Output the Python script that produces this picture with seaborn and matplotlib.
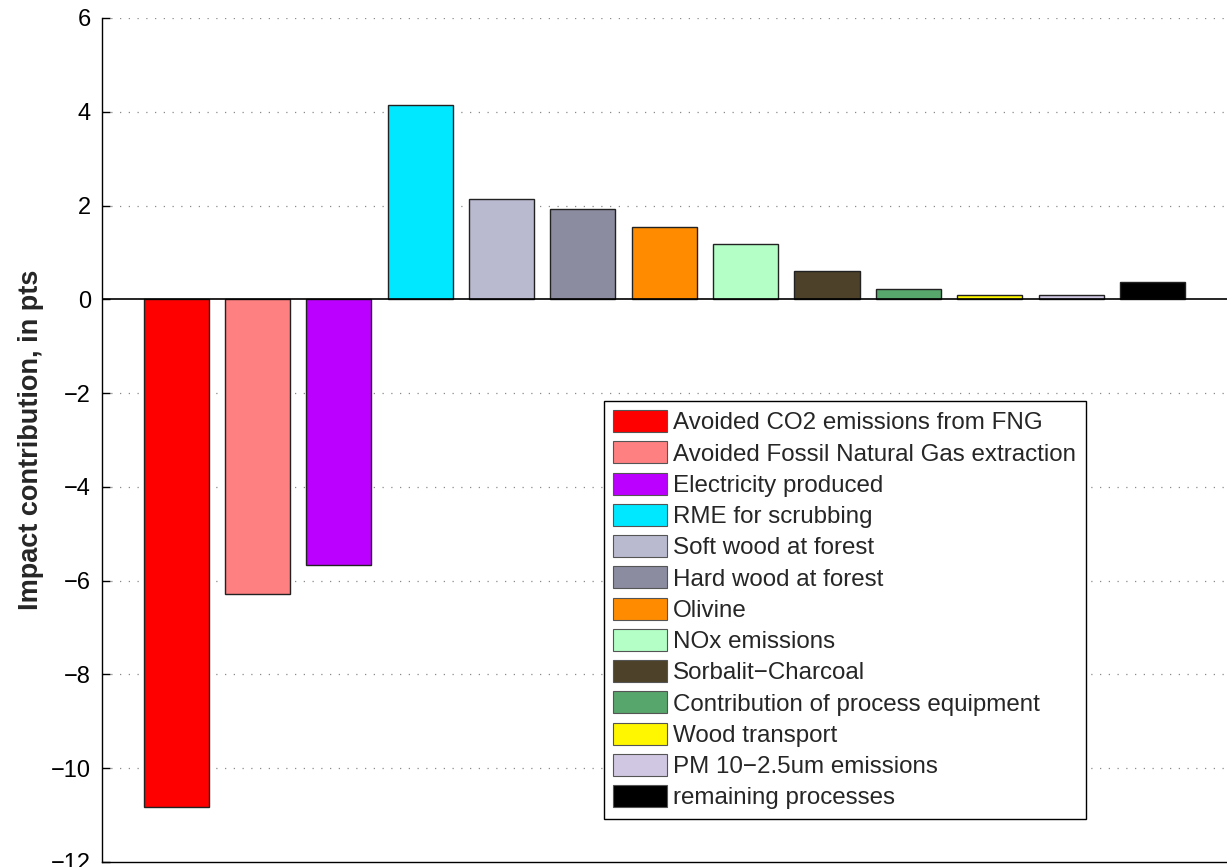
import matplotlib
matplotlib.use("Agg")
import matplotlib.pyplot as plt
from matplotlib.patches import Patch
import seaborn as sns
import pandas as pd

# Contribution of each process to the overall impact score
categories = [
    "Avoided CO2 emissions from FNG",
    "Avoided Fossil Natural Gas extraction",
    "Electricity produced",
    "RME for scrubbing",
    "Soft wood at forest",
    "Hard wood at forest",
    "Olivine",
    "NOx emissions",
    "Sorbalit\u2212Charcoal",
    "Contribution of process equipment",
    "Wood transport",
    "PM 10\u22122.5um emissions",
    "remaining processes",
]
values = [-10.83, -6.29, -5.67, 4.14, 2.13, 1.92, 1.54, 1.17, 0.60, 0.21, 0.10, 0.10, 0.36]
colors = [
    "#FF0000", "#FF8080", "#BB00FF", "#00E8FF", "#B9B9D0", "#8C8CA1", "#FF8C00",
    "#B3FFC6", "#4D4229", "#57A66B", "#FFF700", "#D0C7E2", "#000000",
]
yticks = [-12, -10, -8, -6, -4, -2, 0, 2, 4, 6]

df = pd.DataFrame({"process": categories, "impact": values})
palette = dict(zip(categories, colors))

sns.set_theme(style="white")
plt.rcParams["font.family"] = ["Liberation Sans", "DejaVu Sans"]

W, H = 1227, 867
fig = plt.figure(figsize=(W / 100, H / 100), dpi=100)
ax = fig.add_axes([102 / W, 1 - 862 / H, 1 - 102 / W + 0.001, (862 - 18) / H])

sns.barplot(data=df, x="process", y="impact", hue="process", palette=palette,
            order=categories, hue_order=categories, dodge=False, legend=False,
            edgecolor="#222222", linewidth=1.0, width=0.8, saturation=1, ax=ax)

ax.set_xlim(-0.91, 12.93)
ax.set_ylim(-12, 6)
ax.set_yticks(yticks)
ax.set_yticklabels([f"{t}".replace("-", "\u2212") for t in yticks], fontsize=17)
ax.set_xticks([])
ax.set_xlabel("")
ax.set_ylabel("Impact contribution, in pts", fontsize=19.5, fontweight="bold", labelpad=5)

# dotted horizontal grid and a solid zero baseline
for t in yticks:
    if t not in (0, -12):
        ax.axhline(t, color="#8a8a8a", linestyle=(0, (1, 6)), linewidth=0.9, zorder=0)
ax.axhline(0, color="black", linewidth=1.2, zorder=3)

for side in ("top", "right"):
    ax.spines[side].set_visible(False)
for side in ("left", "bottom"):
    ax.spines[side].set_visible(True)
    ax.spines[side].set_color("black")
    ax.spines[side].set_linewidth(1.0)
ax.tick_params(axis="y", direction="in", length=6, width=1, color="black",
               left=True, pad=8, labelcolor="black")

handles = [Patch(facecolor=c, edgecolor="#555555", linewidth=0.8) for c in colors]
leg = fig.legend(handles, categories, loc="upper left",
                 bbox_to_anchor=(604 / W, 1 - 401 / H), bbox_transform=fig.transFigure,
                 borderaxespad=0, fontsize=17.4, frameon=True, fancybox=False,
                 handlelength=2.22, handleheight=1.02, handletextpad=0.27,
                 labelspacing=0.29, borderpad=0.38)
leg.get_frame().set_edgecolor("black")
leg.get_frame().set_linewidth(1.0)
leg.get_frame().set_alpha(1)

fig.savefig("out.png", dpi=100, facecolor="white")
